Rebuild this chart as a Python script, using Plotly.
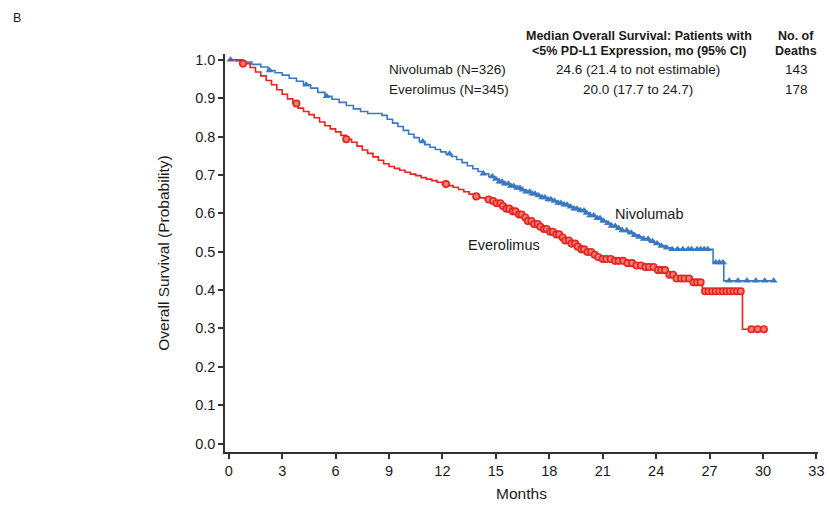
import numpy as np
import plotly.graph_objects as go

# Nivolumab KM step data (months, survival probability)
niv_t = [0, 0.4, 0.9, 1.3, 1.8, 2.2, 2.6, 3.0, 3.4, 3.8, 4.2, 4.6, 5.0, 5.4, 5.8, 6.2, 6.6, 7.0, 7.4, 7.8,
         8.6, 8.9, 9.2, 9.5, 9.8, 10.1, 10.4, 10.7, 11.0, 11.3, 11.6, 11.9, 12.2, 12.5, 12.8, 13.1, 13.4, 13.7,
         14.0, 14.3, 14.6, 14.9, 15.2, 15.5, 15.8, 16.1, 16.4, 16.7, 17.0, 17.3, 17.6, 17.9, 18.2, 18.5, 18.8,
         19.1, 19.4, 19.7, 20.0, 20.3, 20.6, 20.9, 21.2, 21.5, 21.8, 22.1, 22.4, 22.7, 23.0, 23.3, 23.6, 23.9,
         24.2, 24.5, 24.8, 27.2, 27.8, 30.7]
niv_s = [1.0, 0.997, 0.994, 0.988, 0.981, 0.972, 0.966, 0.96, 0.952, 0.944, 0.935, 0.926, 0.915, 0.905, 0.897,
         0.889, 0.881, 0.872, 0.865, 0.86, 0.855, 0.845, 0.835, 0.826, 0.816, 0.806, 0.797, 0.787, 0.779, 0.772,
         0.766, 0.76, 0.755, 0.748, 0.74, 0.732, 0.724, 0.716, 0.709, 0.703, 0.696, 0.689, 0.682, 0.677, 0.671,
         0.666, 0.661, 0.656, 0.651, 0.646, 0.641, 0.636, 0.632, 0.627, 0.622, 0.617, 0.612, 0.607, 0.601, 0.594,
         0.587, 0.58, 0.574, 0.567, 0.561, 0.555, 0.549, 0.543, 0.538, 0.533, 0.527, 0.521, 0.515, 0.51, 0.506,
         0.472, 0.424, 0.424]
niv_cens = [0.1, 2.3, 4.35, 5.5, 10.9, 12.4, 14.3, 14.8, 15.0, 15.2, 15.35, 15.5, 15.7, 15.85, 16.0, 16.2,
            16.35, 16.5, 16.7, 16.9, 17.05, 17.2, 17.4, 17.6, 17.75, 17.95, 18.1, 18.3, 18.5, 18.65, 18.85, 19.0,
            19.2, 19.4, 19.55, 19.75, 19.95, 20.1, 20.3, 20.5, 20.7, 20.85, 21.05, 21.3, 21.5, 21.7, 21.9, 22.1,
            22.35, 22.6, 22.8, 23.05, 23.3, 23.55, 23.8, 24.05, 24.3, 24.6, 24.9, 25.2, 25.5, 25.8, 26.0, 26.3,
            26.5, 26.7, 26.9, 27.35, 27.55, 27.75, 28.1, 28.6, 29.1, 29.6, 30.1, 30.6]

# Everolimus KM step data
eve_t = [0, 0.8, 1.2, 1.5, 1.8, 2.1, 2.4, 2.7, 3.0, 3.3, 3.6, 3.9, 4.2, 4.5, 4.8, 5.1, 5.4, 5.7, 6.0, 6.3, 6.6,
         6.9, 7.2, 7.5, 7.8, 8.1, 8.4, 8.7, 9.0, 9.3, 9.6, 9.9, 10.2, 10.5, 10.8, 11.1, 11.4, 11.7, 12.0, 12.3,
         12.6, 12.9, 13.2, 13.5, 13.8, 14.1, 14.4, 14.7, 15.0, 15.3, 15.6, 15.9, 16.2, 16.5, 16.8, 17.1, 17.4,
         17.7, 18.0, 18.3, 18.6, 18.9, 19.2, 19.5, 19.8, 20.1, 20.4, 20.7, 21.0, 21.6, 22.2, 22.8, 23.4, 24.0,
         24.6, 25.0, 26.0, 26.6, 28.85, 30.2]
eve_s = [1.0, 0.99, 0.98, 0.968, 0.958, 0.946, 0.935, 0.922, 0.91, 0.898, 0.886, 0.874, 0.865, 0.857, 0.849,
         0.838, 0.828, 0.82, 0.812, 0.803, 0.793, 0.785, 0.775, 0.765, 0.756, 0.747, 0.738, 0.729, 0.722, 0.717,
         0.712, 0.707, 0.702, 0.698, 0.693, 0.689, 0.685, 0.681, 0.676, 0.672, 0.668, 0.662, 0.656, 0.65, 0.644,
         0.64, 0.636, 0.632, 0.626, 0.619, 0.612, 0.605, 0.597, 0.589, 0.58, 0.572, 0.565, 0.559, 0.552, 0.545,
         0.537, 0.529, 0.521, 0.513, 0.506, 0.499, 0.492, 0.486, 0.481, 0.476, 0.47, 0.464, 0.46, 0.452, 0.44,
         0.43, 0.42, 0.397, 0.298, 0.298]
eve_cens = [0.8, 3.8, 6.6, 12.2, 13.9, 14.6, 14.85, 15.05, 15.25, 15.4, 15.6, 15.75, 15.95, 16.1, 16.3, 16.45,
            16.65, 16.8, 17.0, 17.15, 17.35, 17.5, 17.7, 17.85, 18.05, 18.2, 18.4, 18.55, 18.75, 18.9, 19.1,
            19.25, 19.45, 19.6, 19.8, 19.95, 20.15, 20.35, 20.55, 20.75, 21.0, 21.2, 21.45, 21.7, 21.9, 22.15,
            22.4, 22.65, 22.9, 23.15, 23.4, 23.6, 23.85, 24.1, 24.3, 24.5, 24.75, 24.95, 25.15, 25.4, 25.6,
            25.85, 26.1, 26.3, 26.5, 26.75, 26.95, 27.15, 27.35, 27.55, 27.75, 27.95, 28.15, 28.35, 28.55,
            28.75, 29.35, 29.7, 30.05]

BLUE = "#3b78c2"
RED = "#e5231f"
W, H = 829, 506
ML, MR, MT, MB = 225, 11, 54, 54


def step_at(t, s, x):
    idx = np.searchsorted(np.array(t), np.array(x), side="right") - 1
    return np.array(s)[idx]


fig = go.Figure()
fig.add_trace(go.Scatter(x=niv_t, y=niv_s, mode="lines", line=dict(color=BLUE, width=1.6, shape="hv"),
                         showlegend=False, hoverinfo="skip"))
fig.add_trace(go.Scatter(x=niv_cens, y=step_at(niv_t, niv_s, niv_cens), mode="markers",
                         marker=dict(symbol="triangle-up", size=7, color=BLUE), showlegend=False))
fig.add_trace(go.Scatter(x=eve_t, y=eve_s, mode="lines", line=dict(color=RED, width=1.6, shape="hv"),
                         showlegend=False, hoverinfo="skip"))
fig.add_trace(go.Scatter(x=eve_cens, y=step_at(eve_t, eve_s, eve_cens), mode="markers",
                         marker=dict(symbol="circle", size=6.5, color="#f07d72", line=dict(color=RED, width=1.6)),
                         showlegend=False))

FONT = "Liberation Sans, Arial, sans-serif"
TXT = "#1a1a1a"
fig.update_layout(
    width=W, height=H,
    margin=dict(l=ML, r=MR, t=MT, b=MB, autoexpand=False),
    paper_bgcolor="white", plot_bgcolor="white",
    font=dict(family=FONT, color=TXT, size=14),
    xaxis=dict(range=[-0.21, 33.09], tickmode="array", tickvals=list(range(0, 34, 3)),
               showline=True, linecolor="#333333", linewidth=1.5, ticks="outside", ticklen=5,
               tickcolor="#333333", tickwidth=1.5, showgrid=False, zeroline=False, automargin=False,
               title=dict(text="Months", font=dict(size=15.5), standoff=10), tickfont=dict(size=14.5)),
    yaxis=dict(range=[-0.022, 1.015], tickmode="array", tickvals=[i / 10 for i in range(11)],
               tickformat=".1f", showline=True, linecolor="#333333", linewidth=1.5, ticks="outside",
               ticklen=5, tickcolor="#333333", tickwidth=1.5, showgrid=False, zeroline=False, automargin=False,
               title=dict(text="Overall Survival (Probability)", font=dict(size=15.5), standoff=22),
               tickfont=dict(size=14.5)),
)


def px2paper(x, y):
    return (x - ML) / (W - ML - MR), (H - MB - y) / (H - MT - MB)


ann = [
    dict(text="B", x=11, y=18, xanchor="left", size=12.5),
    dict(text="<b>Median Overall Survival: Patients with</b>", x=639, y=36, xanchor="center", size=12.5),
    dict(text="<b>&lt;5% PD-L1 Expression, mo (95% CI)</b>", x=639, y=51, xanchor="center", size=12.5),
    dict(text="<b>No. of</b>", x=796, y=36, xanchor="center", size=12.5),
    dict(text="<b>Deaths</b>", x=796, y=51, xanchor="center", size=12.5),
    dict(text="Nivolumab (N=326)", x=387, y=69, xanchor="left", size=13.5),
    dict(text="24.6 (21.4 to not estimable)", x=638, y=69, xanchor="center", size=13.5),
    dict(text="143", x=796, y=69, xanchor="center", size=13.5),
    dict(text="Everolimus (N=345)", x=387, y=90, xanchor="left", size=13.5),
    dict(text="20.0 (17.7 to 24.7)", x=638, y=90, xanchor="center", size=13.5),
    dict(text="178", x=796, y=90, xanchor="center", size=13.5),
    dict(text="Nivolumab", x=649, y=214, xanchor="center", size=14.5),
    dict(text="Everolimus", x=504, y=245, xanchor="center", size=14.5),
]
for a in ann:
    xp, yp = px2paper(a["x"], a["y"])
    fig.add_annotation(text=a["text"], x=xp, y=yp, xref="paper", yref="paper",
                       xanchor=a["xanchor"], yanchor="middle", showarrow=False,
                       font=dict(size=a["size"], family=FONT, color=TXT))

fig.write_html("out.html", config={"displayModeBar": False},
               post_script="document.body.style.margin='0';")
